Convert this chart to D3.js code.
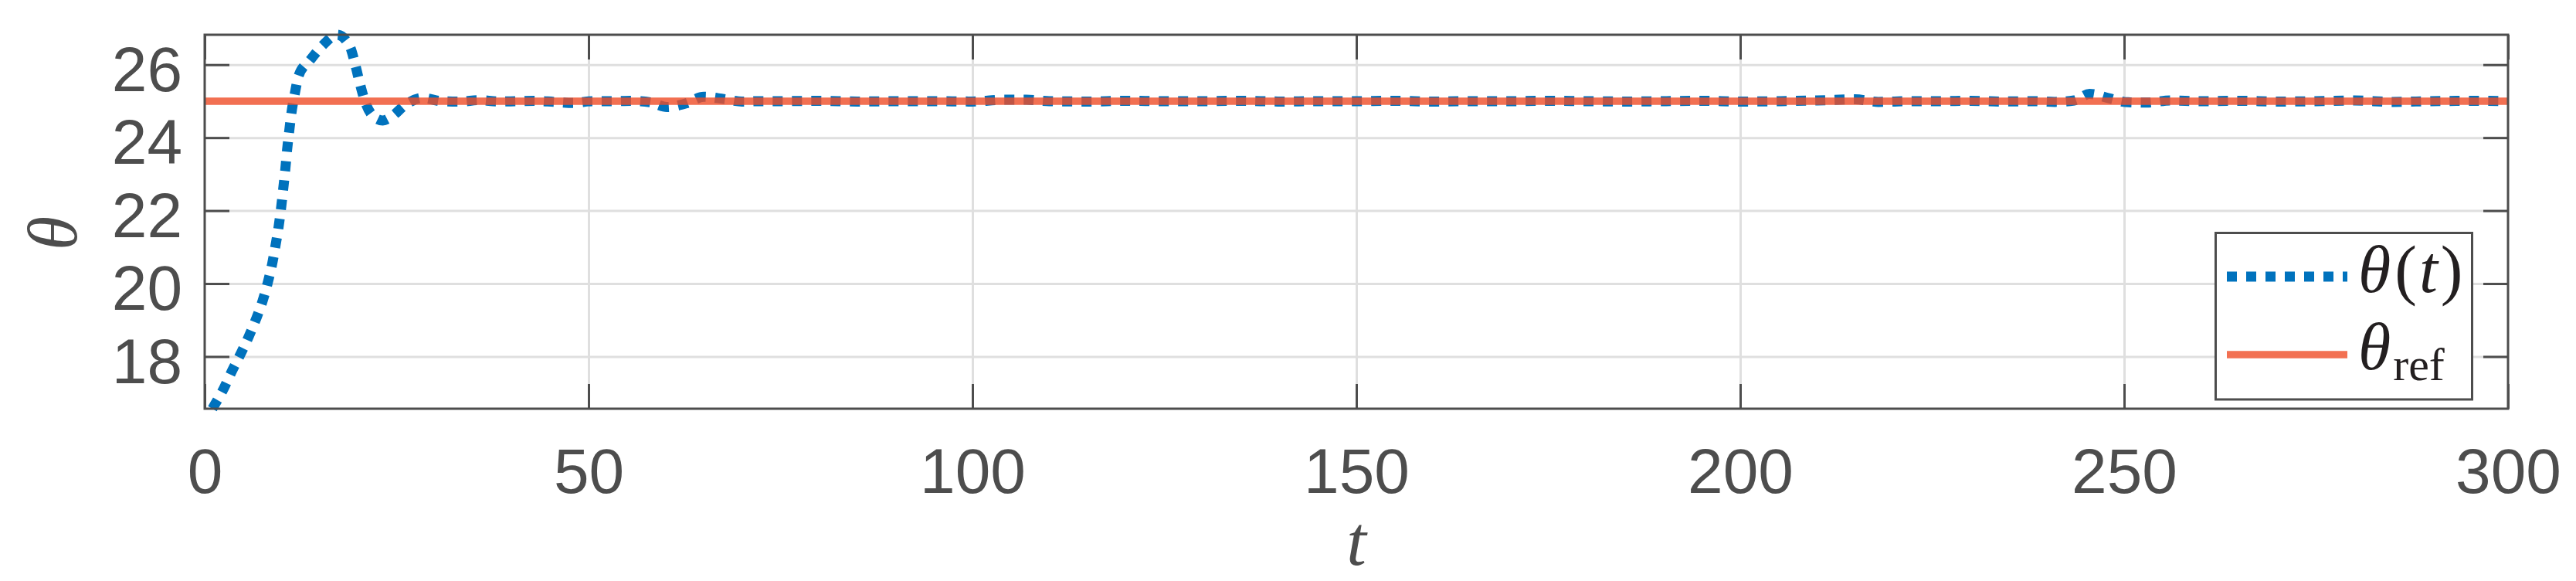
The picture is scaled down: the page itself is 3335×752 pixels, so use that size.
<!DOCTYPE html>
<html>
<head>
<meta charset="utf-8">
<script src="https://cdn.jsdelivr.net/npm/d3@7"></script>
<style>
  body { margin: 0; background: #fff; }
  svg { display: block; }
</style>
</head>
<body>
<div id="chart"></div>
<script>
/* data */
var tVals = [1.0, 2.52, 3.59, 4.7, 5.76, 6.71, 7.55, 8.22, 8.78, 9.23, 9.63, 9.96, 10.23, 10.49, 10.73, 11.0, 11.3, 11.74, 12.24, 13.75, 15.32, 17.27, 18.94, 19.62, 20.22, 20.9, 22.23, 23.2, 24.3, 26.2, 28.4,
             30.85, 33.3, 35.8, 38.2, 40.7, 43, 45.5, 48, 50.5, 53, 55.5, 58, 60.2, 62.7, 65, 67.6, 70, 72.5, 75, 80, 85, 90, 95, 100, 104, 107, 110, 115,
             120, 125, 130, 135, 140, 145, 150, 155, 160, 165, 170, 175, 180, 185, 190, 195, 200, 205, 210, 215, 218, 222, 226, 230, 234, 238, 241, 243.5,
             245.5, 248, 250.5, 253, 256, 260, 265, 270, 275, 280, 285, 290, 295, 300];
var thetaVals = [16.57, 17.14, 17.62, 18.08, 18.56, 19.04, 19.53, 20.03, 20.53, 21.05, 21.56, 22.09, 22.6, 23.11, 23.66, 24.16, 24.68, 25.21, 25.7, 26.13, 26.52, 26.82, 26.48, 25.99, 25.48, 24.98, 24.54, 24.47, 24.57, 24.91, 25.09,
                 25.0, 24.99, 25.03, 24.99, 25.0, 25.01, 24.98, 24.95, 25.0, 25.0, 25.01, 24.97, 24.84, 24.94, 25.12, 25.06, 24.99, 25.0, 25.0, 25.01, 24.99, 25.0, 25.0, 24.99, 25.04, 25.04, 25.0, 24.99,
                 25.01, 25.0, 25.0, 25.01, 24.99, 25.0, 25.0, 25.01, 24.99, 25.0, 25.0, 25.01, 25.0, 24.99, 25.0, 25.01, 24.99, 25.0, 25.02, 25.05, 24.98, 25.0, 25.0, 25.01, 24.99, 25.0, 24.98, 25.02,
                 25.2, 25.08, 24.97, 24.96, 25.02, 25.0, 25.01, 24.99, 25.0, 25.02, 24.98, 25.0, 25.01, 25.0];
var refT = [0, 300];
var refVals = [25, 25];

var xTicks = [0, 50, 100, 150, 200, 250, 300];
var yTicks = [18, 20, 22, 24, 26];
var xDomain = [0, 300];
var yDomain = [16.57, 26.82];

var width = 3335,
    height = 752,
    margin = {top: 45, right: 88, bottom: 223, left: 265};

var innerW = width - margin.left - margin.right,
    innerH = height - margin.top - margin.bottom;

var axisColor = "#4d4d4d",
    gridColor = "#dfdfdf",
    blue = "#0072bd",
    orange = "#ef4c27";

var svg = d3.select("#chart").append("svg")
    .attr("width", width)
    .attr("height", height);

svg.append("rect").attr("width", width).attr("height", height).attr("fill", "#fff");

var g = svg.append("g")
    .attr("transform", "translate(" + margin.left + "," + margin.top + ")");

var x = d3.scaleLinear().domain(xDomain).range([0, innerW]);
var y = d3.scaleLinear().domain(yDomain).range([innerH, 0]);

/* grid */
g.append("g")
    .attr("class", "grid")
    .attr("transform", "translate(0," + innerH + ")")
    .call(d3.axisBottom(x).tickValues(xTicks.slice(1, -1)).tickSize(-innerH).tickFormat(""))
    .call(function(s) { s.select(".domain").remove(); });

g.append("g")
    .attr("class", "grid")
    .call(d3.axisLeft(y).tickValues(yTicks).tickSize(-innerW).tickFormat(""))
    .call(function(s) { s.select(".domain").remove(); });

g.selectAll(".grid line")
    .attr("stroke", gridColor)
    .attr("stroke-width", 3);

/* ticks on all four sides, pointing in */
var tickLen = 32;

var xAxis = g.append("g")
    .attr("transform", "translate(0," + innerH + ")")
    .call(d3.axisBottom(x).tickValues(xTicks).tickSizeInner(-tickLen).tickSizeOuter(0).tickPadding(51));

var yAxis = g.append("g")
    .call(d3.axisLeft(y).tickValues(yTicks).tickSizeInner(-tickLen).tickSizeOuter(0).tickPadding(29));

g.append("g")
    .call(d3.axisTop(x).tickValues(xTicks).tickSizeInner(-tickLen).tickSizeOuter(0).tickFormat(""));

g.append("g")
    .attr("transform", "translate(" + innerW + ",0)")
    .call(d3.axisRight(y).tickValues(yTicks).tickSizeInner(-tickLen).tickSizeOuter(0).tickFormat(""));

g.selectAll(".domain").remove();
svg.selectAll("g:not(.grid) > .tick line")
    .attr("stroke", axisColor)
    .attr("stroke-width", 3);

g.selectAll(".tick text")
    .attr("fill", axisColor)
    .attr("font-family", "'Liberation Sans', Arial, sans-serif")
    .attr("font-size", 82);

yAxis.selectAll(".tick text").attr("dy", "0.41em");

/* data */
var lineData = tVals.map(function(t, i) { return [t, thetaVals[i]]; });
var refData = refT.map(function(t, i) { return [t, refVals[i]]; });

var line = d3.line()
    .x(function(d) { return x(d[0]); })
    .y(function(d) { return y(d[1]); })
    .curve(d3.curveMonotoneX);

g.append("path")
    .datum(lineData)
    .attr("d", line)
    .attr("fill", "none")
    .attr("stroke", blue)
    .attr("stroke-width", 13)
    .attr("stroke-dasharray", "13 12")
    .attr("stroke-linecap", "butt");

g.append("path")
    .datum(refData)
    .attr("d", line)
    .attr("fill", "none")
    .attr("stroke", orange)
    .attr("stroke-opacity", 0.8)
    .attr("stroke-width", 9.5);

/* axes box */
g.append("rect")
    .attr("width", innerW)
    .attr("height", innerH)
    .attr("fill", "none")
    .attr("stroke", axisColor)
    .attr("stroke-width", 3);

/* axis labels */
var mathFont = "'Liberation Serif', 'Times New Roman', serif";

svg.append("text")
    .attr("x", margin.left + innerW / 2)
    .attr("y", 731)
    .attr("text-anchor", "middle")
    .attr("font-family", mathFont)
    .attr("font-style", "italic")
    .attr("font-size", 92)
    .attr("fill", axisColor)
    .text("t");

svg.append("text")
    .attr("transform", "translate(99," + (margin.top + innerH / 2 + 15) + ") rotate(-90)")
    .attr("text-anchor", "middle")
    .attr("font-family", mathFont)
    .attr("font-style", "italic")
    .attr("font-size", 90)
    .attr("fill", axisColor)
    .text("θ");

/* legend */
var legend = svg.append("g").attr("class", "legend");

legend.append("rect")
    .attr("x", 2868.5)
    .attr("y", 301.5)
    .attr("width", 332)
    .attr("height", 215.5)
    .attr("fill", "#fff")
    .attr("stroke", axisColor)
    .attr("stroke-width", 3);

legend.append("line")
    .attr("x1", 2883).attr("x2", 3039)
    .attr("y1", 358).attr("y2", 358)
    .attr("stroke", blue)
    .attr("stroke-width", 13)
    .attr("stroke-dasharray", "13 12");

legend.append("line")
    .attr("x1", 2883).attr("x2", 3039)
    .attr("y1", 459).attr("y2", 459)
    .attr("stroke", orange)
    .attr("stroke-opacity", 0.8)
    .attr("stroke-width", 9.5);

var t1 = legend.append("text")
    .attr("x", 3053)
    .attr("y", 378)
    .attr("font-family", mathFont)
    .attr("font-size", 86)
    .attr("fill", "#231f20");
t1.append("tspan").attr("font-style", "italic").text("θ");
t1.append("tspan").attr("dx", 5).text("(");
t1.append("tspan").attr("dx", 3).attr("font-style", "italic").text("t");
t1.append("tspan").attr("dx", 4).text(")");

var t2 = legend.append("text")
    .attr("x", 3053)
    .attr("y", 478)
    .attr("font-family", mathFont)
    .attr("font-size", 86)
    .attr("fill", "#231f20");
t2.append("tspan").attr("font-style", "italic").text("θ");
t2.append("tspan").attr("font-size", 60).attr("dy", 14).attr("dx", 3).text("ref");
</script>
</body>
</html>
